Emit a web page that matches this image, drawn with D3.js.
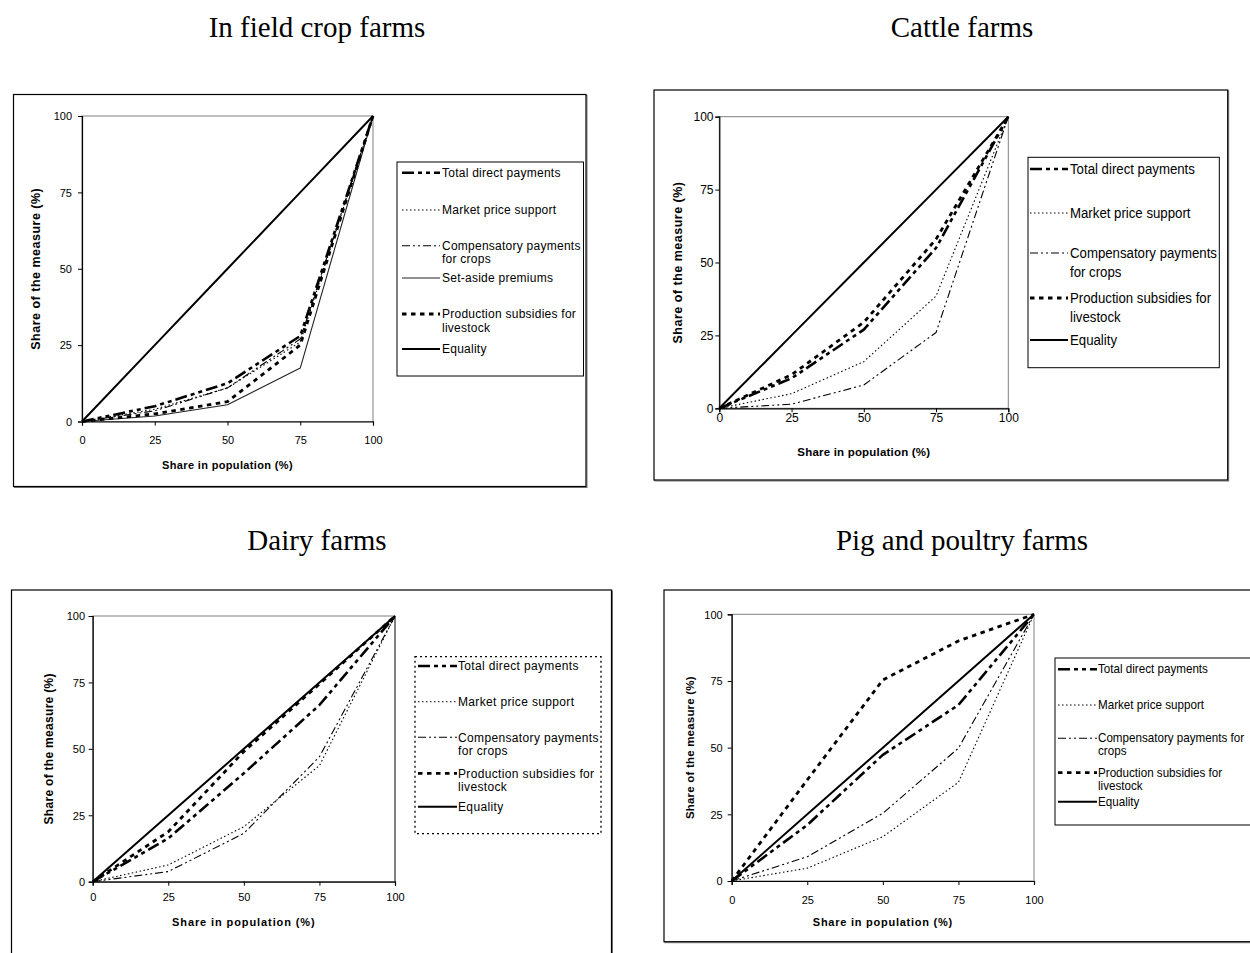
<!DOCTYPE html>
<html>
<head>
<meta charset="utf-8">
<script src="https://cdn.jsdelivr.net/npm/d3@7"></script>
<style>
  html, body { margin: 0; padding: 0; background: #fff; }
  svg { display: block; }
</style>
</head>
<body>
<svg id="chart" width="1250" height="953"></svg>
<script>
// Lorenz curves: cumulative share of each support measure vs. share of farms
const populationShares = [0, 25, 50, 75, 100];
const axisTicks = [0, 25, 50, 75, 100];

// In field crop farms
const fieldTotalDirect = [0, 5, 12.5, 28, 100];
const fieldMarketPrice = [0, 4, 11, 26, 100];
const fieldCompensatory = [0, 3.5, 11, 27, 100];
const fieldSetAside = [0, 1.8, 5.5, 17.5, 100];
const fieldLivestock = [0, 2.5, 6.5, 25, 100];

// Cattle farms
const cattleTotalDirect = [0, 10.3, 27, 55, 100];
const cattleMarketPrice = [0, 5, 16, 38.5, 100];
const cattleCompensatory = [0, 1.4, 8, 26, 100];
const cattleLivestock = [0, 11.5, 29.5, 58, 100];

// Dairy farms
const dairyTotalDirect = [0, 16.3, 40.8, 66.5, 100];
const dairyMarketPrice = [0, 6.3, 20.7, 43.7, 100];
const dairyCompensatory = [0, 3.8, 18.2, 47, 100];
const dairyLivestock = [0, 18.8, 49, 74.4, 100];

// Pig and poultry farms
const pigTotalDirect = [0, 21, 47.3, 66, 100];
const pigMarketPrice = [0, 4.8, 16.6, 37, 100];
const pigCompensatory = [0, 9.1, 25.4, 49.8, 100];
const pigLivestock = [0, 37.9, 75.4, 90, 100];

const equalityLine = [0, 25, 50, 75, 100];

const panelTitles = ["In field crop farms", "Cattle farms", "Dairy farms", "Pig and poultry farms"];
const xAxisTitle = "Share in population (%)";
const yAxisTitle = "Share of the measure (%)";

// Line styles per measure
const styles = {
  total:   { width: 2.6, dash: "12,4,4,4,4,4", color: "#000" },
  market:  { width: 1.1, dash: "1.5,2.5", color: "#000" },
  comp:    { width: 1.1, dash: "8,3,2,3,2,3", color: "#000" },
  setaside:{ width: 1.1, dash: null, color: "#222" },
  livestock:{ width: 2.8, dash: "4.5,4.5", color: "#000" },
  equality:{ width: 2, dash: null, color: "#000" }
};

const panels = [
  {
    title: panelTitles[0], titleX: 317, titleY: 37,
    frame: { x: 13.5, y: 94.5, w: 572.5, h: 392 },
    plot: { x0: 82, x1: 373, y0: 421.5, y1: 116 },
    tickFont: 11, tickLabelX: 72, xLabelY: 444, xTitleY: 469, yTitleX: 36,
    xt: { font: 11, sp: 0.35 }, yt: { font: 12.5, sp: 0.5 },
    legend: { x: 397, y: 162, w: 186.5, h: 214, dotted: false, sx0: 402, sx1: 440, tx: 442, font: 12, sp: 0.25, squeeze: 1 },
    series: [
      { key: "total", values: fieldTotalDirect, label: ["Total direct payments"], ly: 172.7 },
      { key: "market", values: fieldMarketPrice, label: ["Market price support"], ly: 210 },
      { key: "comp", values: fieldCompensatory, label: ["Compensatory payments", "for crops"], ly: 245.7 },
      { key: "setaside", values: fieldSetAside, label: ["Set-aside premiums"], ly: 278 },
      { key: "livestock", values: fieldLivestock, label: ["Production subsidies for", "livestock"], ly: 314 },
      { key: "equality", values: equalityLine, label: ["Equality"], ly: 349 }
    ],
    lineGap: 13.5
  },
  {
    title: panelTitles[1], titleX: 962, titleY: 37,
    frame: { x: 654, y: 90, w: 573.7, h: 390 },
    plot: { x0: 719.3, x1: 1008.3, y0: 408.3, y1: 116.7 },
    tickFont: 12, tickLabelX: 713.5, xLabelY: 422.5, xTitleY: 456, yTitleX: 678,
    xt: { font: 11.5, sp: 0.2 }, yt: { font: 12.5, sp: 0.5 },
    legend: { x: 1028, y: 157.3, w: 191.3, h: 210.4, dotted: false, sx0: 1030, sx1: 1068, tx: 1070, font: 14, sp: 0, squeeze: 0.945 },
    series: [
      { key: "total", values: cattleTotalDirect, label: ["Total direct payments"], ly: 169 },
      { key: "market", values: cattleMarketPrice, label: ["Market price support"], ly: 213 },
      { key: "comp", values: cattleCompensatory, label: ["Compensatory payments", "for crops"], ly: 253 },
      { key: "livestock", values: cattleLivestock, label: ["Production subsidies for", "livestock"], ly: 298 },
      { key: "equality", values: equalityLine, label: ["Equality"], ly: 340 }
    ],
    lineGap: 19
  },
  {
    title: panelTitles[2], titleX: 317, titleY: 550,
    frame: { x: 11.5, y: 590, w: 600, h: 380 },
    plot: { x0: 92.7, x1: 395, y0: 881.7, y1: 616 },
    tickFont: 11, tickLabelX: 85, xLabelY: 901.5, xTitleY: 925.5, yTitleX: 49,
    xt: { font: 11, sp: 0.9 }, yt: { font: 12, sp: 0.3 },
    legend: { x: 415, y: 656.7, w: 186, h: 177, dotted: true, sx0: 418, sx1: 457, tx: 458, font: 12, sp: 0.35, squeeze: 1 },
    series: [
      { key: "total", values: dairyTotalDirect, label: ["Total direct payments"], ly: 666 },
      { key: "market", values: dairyMarketPrice, label: ["Market price support"], ly: 701.7 },
      { key: "comp", values: dairyCompensatory, label: ["Compensatory payments", "for crops"], ly: 737.3 },
      { key: "livestock", values: dairyLivestock, label: ["Production subsidies for", "livestock"], ly: 773.3 },
      { key: "equality", values: equalityLine, label: ["Equality"], ly: 806.7 }
    ],
    lineGap: 13,
    thickRight: true
  },
  {
    title: panelTitles[3], titleX: 962, titleY: 550,
    frame: { x: 664, y: 590, w: 600, h: 351.7 },
    plot: { x0: 731.7, x1: 1034, y0: 881, y1: 614.3 },
    tickFont: 11, tickLabelX: 722.7, xLabelY: 904, xTitleY: 925.5, yTitleX: 690,
    xt: { font: 11, sp: 0.75 }, yt: { font: 11.5, sp: 0.2 },
    legend: { x: 1055, y: 658, w: 210, h: 167, dotted: false, sx0: 1058, sx1: 1097, tx: 1098, font: 12, sp: 0, squeeze: 0.97 },
    series: [
      { key: "total", values: pigTotalDirect, label: ["Total direct payments"], ly: 669.3 },
      { key: "market", values: pigMarketPrice, label: ["Market price support"], ly: 705 },
      { key: "comp", values: pigCompensatory, label: ["Compensatory payments for", "crops"], ly: 738.3 },
      { key: "livestock", values: pigLivestock, label: ["Production subsidies for", "livestock"], ly: 772.7 },
      { key: "equality", values: equalityLine, label: ["Equality"], ly: 801.7 }
    ],
    lineGap: 13
  }
];

const svg = d3.select("#chart");
const sans = "Arial, 'Liberation Sans', sans-serif";

panels.forEach(p => {
  const g = svg.append("g");

  // Panel heading
  g.append("text")
    .attr("x", p.titleX).attr("y", p.titleY)
    .attr("text-anchor", "middle")
    .attr("font-family", "'Liberation Serif', 'Times New Roman', serif")
    .attr("font-size", 29)
    .text(p.title);

  // Chart frame with a faint drop shadow on the bottom/right
  g.append("rect")
    .attr("x", p.frame.x + 1).attr("y", p.frame.y + 1)
    .attr("width", p.frame.w).attr("height", p.frame.h)
    .attr("fill", "none").attr("stroke", "#777").attr("stroke-width", 1);
  g.append("rect")
    .attr("x", p.frame.x).attr("y", p.frame.y)
    .attr("width", p.frame.w).attr("height", p.frame.h)
    .attr("fill", "#fff").attr("stroke", "#000").attr("stroke-width", 1.2);

  const x = d3.scaleLinear().domain([0, 100]).range([p.plot.x0, p.plot.x1]);
  const y = d3.scaleLinear().domain([0, 100]).range([p.plot.y0, p.plot.y1]);

  // Plot area border
  g.append("rect")
    .attr("x", x(0)).attr("y", y(100))
    .attr("width", x(100) - x(0)).attr("height", y(0) - y(100))
    .attr("fill", "none").attr("stroke", "#808080").attr("stroke-width", 1);
  if (p.thickRight) {
    g.append("line")
      .attr("x1", x(100)).attr("x2", x(100)).attr("y1", y(100)).attr("y2", y(0))
      .attr("stroke", "#808080").attr("stroke-width", 2);
  }

  // Axes
  const xAxis = d3.axisBottom(x).tickValues(axisTicks).tickSize(4).tickPadding(4);
  const yAxis = d3.axisLeft(y).tickValues(axisTicks).tickSize(4).tickPadding(4);

  const gx = g.append("g").attr("transform", `translate(0,${y(0)})`).call(xAxis);
  const gy = g.append("g").attr("transform", `translate(${x(0)},0)`).call(yAxis);
  [gx, gy].forEach(a => {
    a.select(".domain").attr("stroke", "#000").attr("stroke-width", 1.2);
    a.selectAll(".tick line").attr("stroke", "#000");
    a.selectAll(".tick text")
      .attr("font-family", sans)
      .attr("font-size", p.tickFont)
      .attr("fill", "#000");
  });
  gx.selectAll(".tick text").attr("dy", null).attr("y", p.xLabelY - y(0));
  gy.selectAll(".tick text").attr("x", p.tickLabelX - x(0)).attr("dy", "0.35em");

  // Axis titles
  g.append("text")
    .attr("x", (x(0) + x(100)) / 2).attr("y", p.xTitleY)
    .attr("text-anchor", "middle")
    .attr("font-family", sans).attr("font-weight", "bold")
    .attr("font-size", p.xt.font)
    .attr("letter-spacing", p.xt.sp)
    .text(xAxisTitle);
  g.append("text")
    .attr("transform", `translate(${p.yTitleX},${(y(0) + y(100)) / 2}) rotate(-90)`)
    .attr("text-anchor", "middle").attr("dy", "0.35em")
    .attr("font-family", sans).attr("font-weight", "bold")
    .attr("font-size", p.yt.font)
    .attr("letter-spacing", p.yt.sp)
    .text(yAxisTitle);

  // Curves
  const line = d3.line()
    .x((d, i) => x(populationShares[i]))
    .y(d => y(d));

  const drawOrder = ["setaside", "comp", "market", "livestock", "total", "equality"];
  drawOrder.forEach(k => {
    const s = p.series.find(d => d.key === k);
    if (!s) return;
    const st = styles[k];
    g.append("path")
      .datum(s.values)
      .attr("d", line)
      .attr("fill", "none")
      .attr("stroke", st.color)
      .attr("stroke-width", st.width)
      .attr("stroke-dasharray", st.dash)
      .attr("stroke-linejoin", "round");
  });

  // Legend
  const L = p.legend;
  g.append("rect")
    .attr("x", L.x).attr("y", L.y).attr("width", L.w).attr("height", L.h)
    .attr("fill", "#fff")
    .attr("stroke", "#000")
    .attr("stroke-width", L.dotted ? 1.3 : 1)
    .attr("stroke-dasharray", L.dotted ? "2,3" : null);

  p.series.forEach(s => {
    const st = styles[s.key];
    g.append("line")
      .attr("x1", L.sx0).attr("x2", L.sx1)
      .attr("y1", s.ly).attr("y2", s.ly)
      .attr("stroke", st.color)
      .attr("stroke-width", st.width)
      .attr("stroke-dasharray", st.dash);
    const t = g.append("text")
      .attr("transform", `translate(${L.tx},0) scale(${L.squeeze},1)`)
      .attr("font-family", sans)
      .attr("font-size", L.font)
      .attr("letter-spacing", L.sp)
      .attr("fill", "#000");
    s.label.forEach((ln, i) => {
      t.append("tspan")
        .attr("x", 0)
        .attr("y", s.ly + i * p.lineGap)
        .attr("dy", "0.35em")
        .text(ln);
    });
  });
});
</script>
</body>
</html>
